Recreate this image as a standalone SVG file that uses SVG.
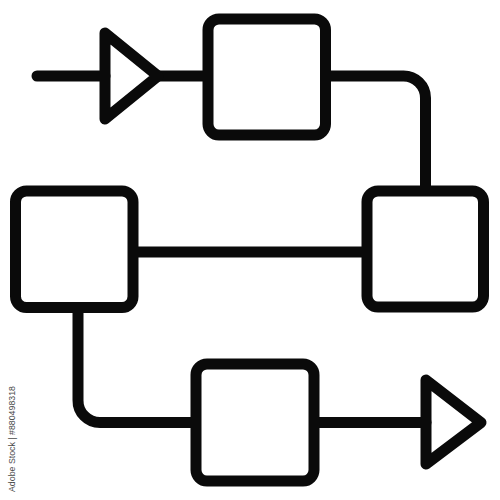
<svg xmlns="http://www.w3.org/2000/svg" width="500" height="500" viewBox="0 0 500 500">
<style>
.s{fill:none;stroke:#0a0a0a;stroke-width:11;stroke-linejoin:round;stroke-linecap:round}
.b{fill:#fff;stroke:#0a0a0a;stroke-width:11}
.wm{font-family:"Liberation Sans",Arial,sans-serif;font-size:8.8px;fill:#4a4a4a}
</style>
<rect width="500" height="500" fill="#fff"/>
<g id="connectors">
<path class="s" d="M37 76H105"/>
<path class="s" d="M158 76H208"/>
<path class="s" d="M325 76H403A22 22 0 0 1 425.5 98V191"/>
<path class="s" d="M133 252H367"/>
<path class="s" d="M78 307V400A22 22 0 0 0 100 422.5H196"/>
<path class="s" d="M314 422.5H426"/>
</g>
<g id="start-arrow"><path class="s" d="M105 33L158 76L105 119Z"/></g>
<g id="box1"><rect class="b" x="208" y="19" width="117.5" height="116" rx="11"/></g>
<g id="box2"><rect class="b" x="367" y="191" width="116.5" height="116" rx="11"/></g>
<g id="box3"><rect class="b" x="15.5" y="191" width="117.5" height="116.5" rx="11"/></g>
<g id="box4"><rect class="b" x="196" y="364" width="118" height="117" rx="11"/></g>
<g id="end-arrow"><path class="s" d="M426 380L481 422.5L426 464Z"/></g>
<text class="wm" transform="translate(15 492) rotate(-90)">Adobe Stock | #880498318</text>
</svg>
